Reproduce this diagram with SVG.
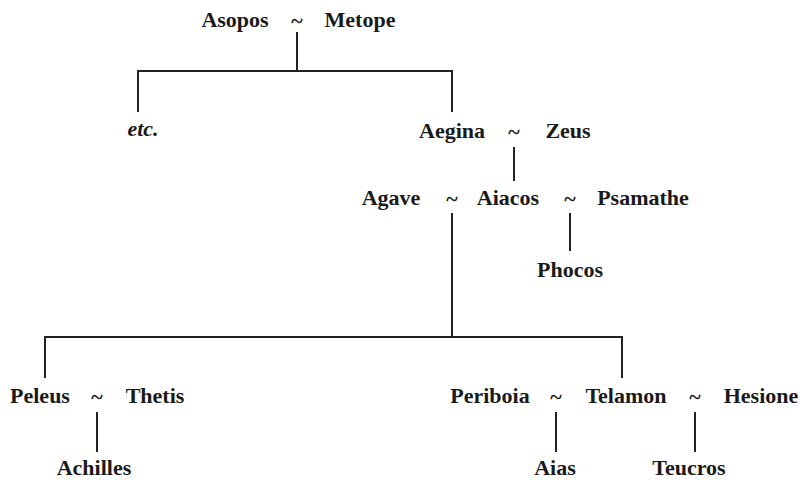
<svg xmlns="http://www.w3.org/2000/svg" width="804" height="487" viewBox="0 0 804 487">
<style>
text{font-family:"Liberation Serif","Times New Roman",serif;font-size:22px;font-weight:bold;fill:#1a1a1a;text-anchor:middle}
.it{font-style:italic}
.c line,.c polyline{stroke:#222;stroke-width:2;fill:none}
</style>
<rect width="804" height="487" fill="#fff"/>
<g class="c" id="connectors">
<line x1="297" y1="32" x2="297" y2="71"/>
<polyline points="138,112 138,71 452,71 452,112"/>
<line x1="514" y1="147" x2="514" y2="181"/>
<line x1="452" y1="213" x2="452" y2="337"/>
<line x1="570" y1="213" x2="570" y2="251"/>
<polyline points="45,378 45,337 622,337 622,378"/>
<line x1="97" y1="412" x2="97" y2="452"/>
<line x1="556" y1="412" x2="556" y2="452"/>
<line x1="695" y1="412" x2="695" y2="452"/>
</g>
<g id="asopos"><text x="235" y="27">Asopos</text></g>
<g id="m1"><text x="297" y="28">~</text></g>
<g id="metope"><text x="360" y="27">Metope</text></g>
<g id="etc"><text class="it" x="143" y="136">etc.</text></g>
<g id="aegina"><text x="452" y="138">Aegina</text></g>
<g id="m2"><text x="514" y="139">~</text></g>
<g id="zeus"><text x="568" y="138">Zeus</text></g>
<g id="agave"><text x="391" y="205">Agave</text></g>
<g id="m3"><text x="452" y="206">~</text></g>
<g id="aiacos"><text x="508" y="205">Aiacos</text></g>
<g id="m4"><text x="570" y="206">~</text></g>
<g id="psamathe"><text x="643" y="205">Psamathe</text></g>
<g id="phocos"><text x="570" y="277">Phocos</text></g>
<g id="peleus"><text x="40" y="403">Peleus</text></g>
<g id="m5"><text x="97" y="404">~</text></g>
<g id="thetis"><text x="155" y="403">Thetis</text></g>
<g id="achilles"><text x="94" y="475">Achilles</text></g>
<g id="periboia"><text x="490" y="403">Periboia</text></g>
<g id="m6"><text x="556" y="404">~</text></g>
<g id="telamon"><text x="626" y="403">Telamon</text></g>
<g id="m7"><text x="695" y="404">~</text></g>
<g id="hesione"><text x="761" y="403">Hesione</text></g>
<g id="aias"><text x="555" y="475">Aias</text></g>
<g id="teucros"><text x="689" y="475">Teucros</text></g>
</svg>
